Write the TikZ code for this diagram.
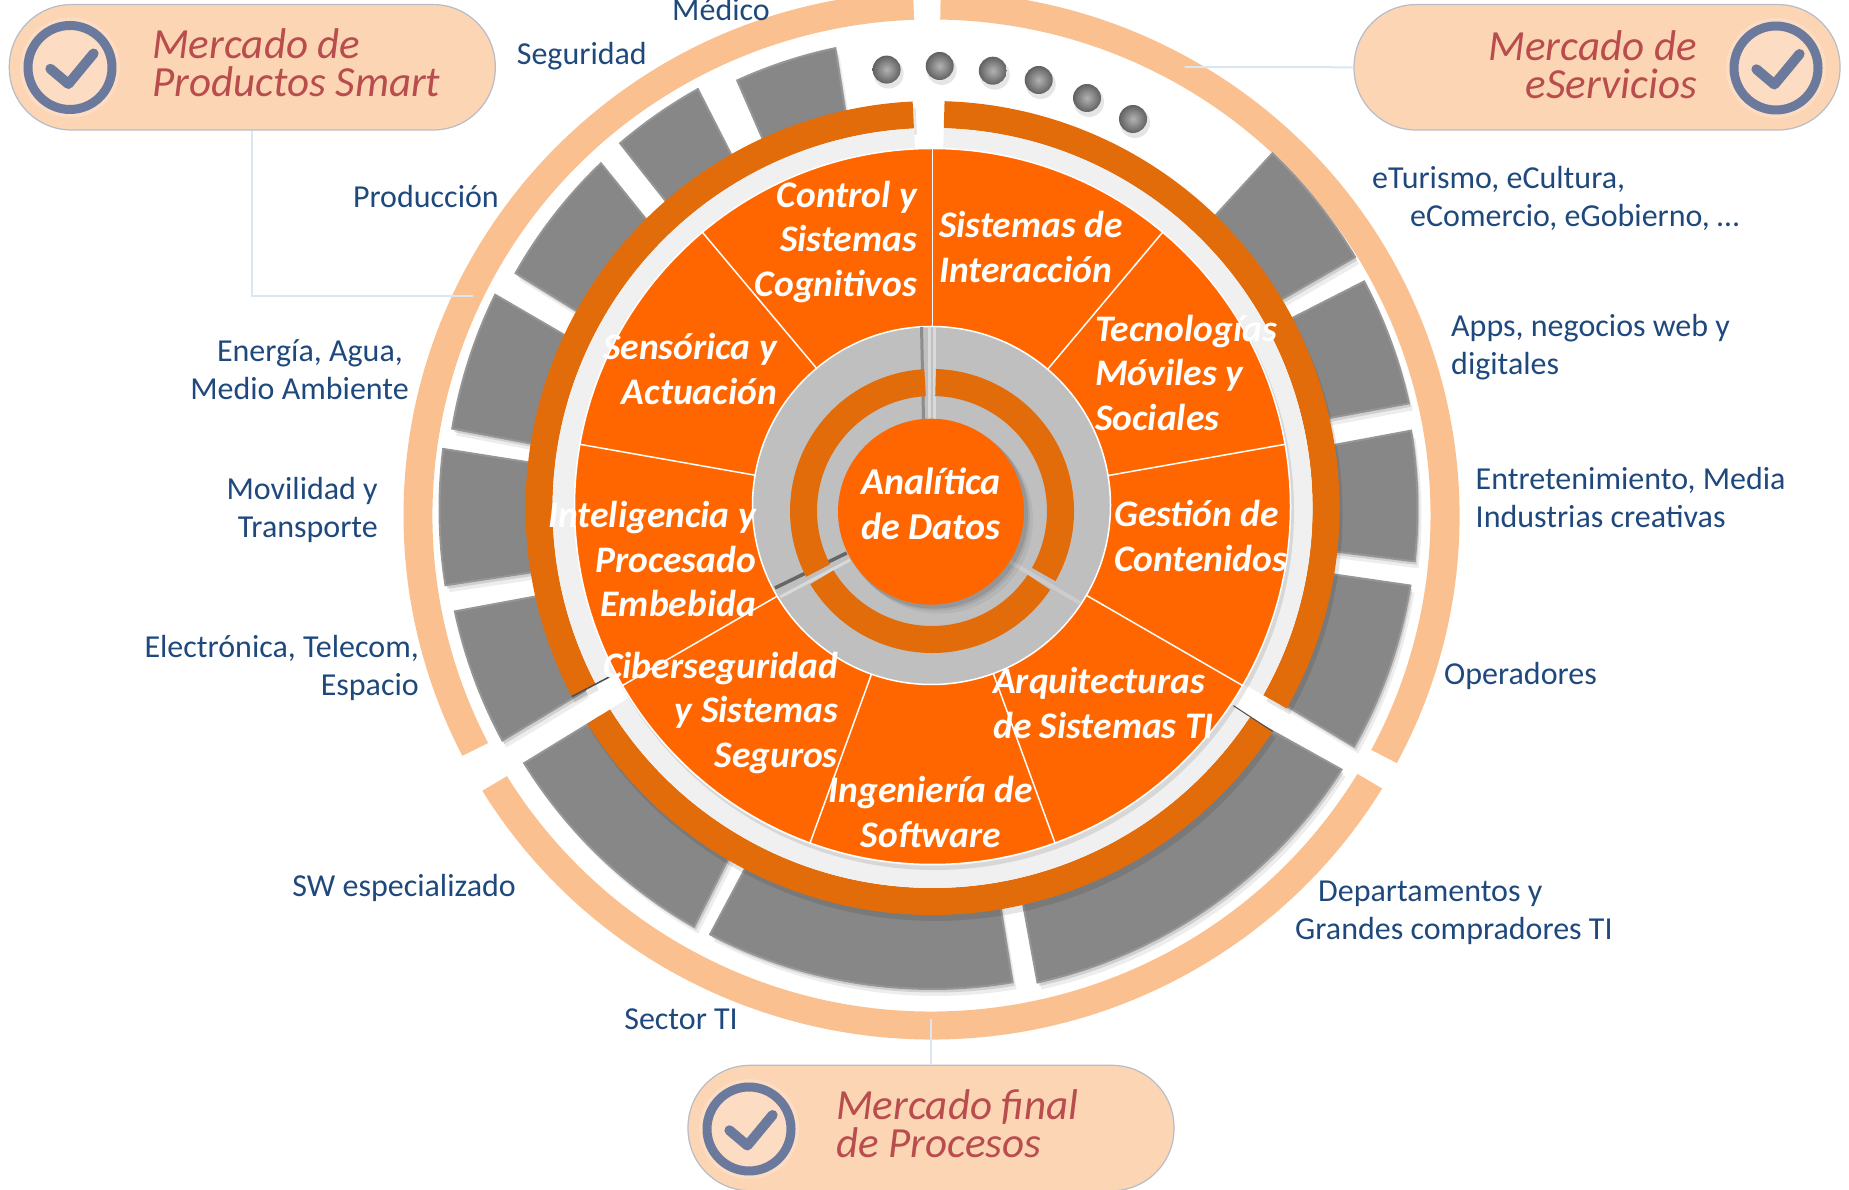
\documentclass[tikz,border=0pt]{standalone}
\usepackage{fontspec}
\setmainfont{Carlito}
\definecolor{peach}{HTML}{FAC090}
\definecolor{pill}{HTML}{FCD5B5}
\definecolor{pillline}{HTML}{B9BCC4}
\definecolor{darkor}{HTML}{E36C0A}
\definecolor{brightor}{HTML}{FF6600}
\definecolor{lightring}{HTML}{F0F0F0}
\definecolor{grayring}{HTML}{BFBFBF}
\definecolor{blockg}{HTML}{878787}
\definecolor{blockedge}{HTML}{969696}
\definecolor{labelc}{HTML}{1F497D}
\definecolor{pilltext}{HTML}{B94D4D}
\definecolor{iconc}{HTML}{6B7A9C}
\definecolor{connc}{HTML}{DCE6F2}
\newcommand{\band}[5][]{\path[#1] (#2:#5pt) arc[start angle=#2,end angle=#3,radius=#5pt] -- (#3:#4pt) arc[start angle=#3,end angle=#2,radius=#4pt] -- cycle;}
\newcommand{\eband}[2]{\path[fill=peach] (#1:528pt and 524pt) arc[start angle=#1,end angle=#2,x radius=528pt,y radius=524pt] -- (#2:499pt and 496pt) arc[start angle=#2,end angle=#1,x radius=499pt,y radius=496pt] -- cycle;}
\newcommand{\blockshape}[6][]{\path[#1] (#2:#4pt) arc[start angle=#2,end angle=#3,radius=#4pt] -- (#6:392pt) arc[start angle=#6,end angle=#5,radius=392pt] -- cycle;}
\newcommand{\blk}[5]{%
  \blockshape[fill=black,fill opacity=.07,shift={(4pt,-7pt)}]{#1}{#2}{#3}{#4}{#5}
  \blockshape[fill=black,fill opacity=.12,shift={(2pt,-3.5pt)}]{#1}{#2}{#3}{#4}{#5}
  \blockshape[fill=blockg,draw=blockedge,line width=2pt,line join=miter]{#1}{#2}{#3}{#4}{#5}}
\newcommand{\tick}[1]{%
  \begin{scope}[shift={(#1)}]
    \fill[white,fill opacity=.18] (0,0) circle[radius=50pt];
    \draw[iconc,line width=9pt] (0,0) circle[radius=42pt];
    \draw[iconc,line width=10pt,line cap=round,line join=round] (-19.6,-1.3) -- (-1.6,-16.5) -- (23.6,14);
  \end{scope}}
\newcommand{\ball}[1]{%
  \fill[black,fill opacity=.10] ($(#1)+(2,-4)$) circle[radius=15pt];
  \shade[inner color=black!30,outer color=black!62] (#1) circle[radius=14pt];}
\usetikzlibrary{calc}
\tikzset{
  x=1pt,y=1pt,
  lab/.style={font=\fontsize{32}{38}\selectfont,text=labelc,inner sep=0pt},
  sec/.style={font=\fontsize{37.5}{44.5}\selectfont\bfseries\itshape,text=white,inner sep=0pt},
  pillbox/.style={fill=pill,draw=pillline,line width=1.2pt,rounded corners=62pt,inner sep=0pt,minimum width=486pt,minimum height=125.4pt},
  pilltxt/.style={font=\fontsize{43}{38}\selectfont\itshape,text=pilltext,inner sep=0pt},
  conn/.style={connc,line width=2pt},
  divider/.style={white,line width=1.5pt}
}
\begin{document}
\begin{tikzpicture}
\useasboundingbox (0,0) rectangle (1849,1189);
\clip (0,0) rectangle (1849,1189);
% outer peach ring
\begin{scope}[shift={(931.5,673.5)}]
  \eband{92}{207.3}
  \eband{211.7}{328.6}
  \eband{-28.2}{89}
\end{scope}
% grey blocks
\begin{scope}[shift={(932.5,680)}]
  \blk{101.9}{114.5}{471}{102.5}{114.7}
  \blk{119.2}{130.5}{481}{119.7}{131}
  \blk{133.8}{150.5}{479}{134.9}{151}
  \blk{153.9}{170.5}{487}{154.9}{170.8}
  \blk{173}{188.9}{493}{173.5}{189}
  \blk{192.1}{208.3}{488.5}{192.5}{207.6}
  \blk{211.9}{240.3}{481}{212}{239.6}
  \blk{242.4}{279.6}{480}{242.5}{279.7}
  \blk{282.5}{327.5}{485}{283}{326.7}
  \blk{330.6}{350.9}{484}{331}{350.7}
  \blk{353.8}{369.3}{485}{354}{369}
  \blk{372.5}{387.8}{488}{373}{388}
  \blk{390.8}{406.3}{492}{391}{406}
\end{scope}
% spheres
\ball{886.6,1119.4}
\ball{939.7,1123}
\ball{992.8,1118.3}
\ball{1038.7,1109}
\ball{1087,1091}
\ball{1133,1070}
% dark ring with light ring inside
\begin{scope}[shift={(932.5,681)}]
  \foreach \a/\b in {92.8/207.6,212/326.7,-29.5/88.3}{
    \band[fill=black,fill opacity=.10,shift={(3pt,-6pt)}]{\a}{\b}{380}{407}
    \band[fill=darkor]{\a}{\b}{380}{407}
    \band[fill=lightring]{\a}{\b}{358}{380}
  }
  \draw[black!70,line width=1.5pt] (207.6:360pt) -- (207.6:407pt);
  \draw[black!70,line width=1pt] (-33.3:360pt) -- (-33.3:407pt);
\end{scope}
% orange disc
\fill[black,fill opacity=.10] (935,678) circle[radius=359pt];
\fill[brightor,draw=white,line width=1.5pt] (932.5,682.5) circle[radius=358pt];
\foreach \a in {90,50,10,-30,-70,-110,-150,170,130}{
  \draw[divider] ($(932.5,682.5)+(\a:178pt)$) -- ($(932.5,682.5)+(\a:358pt)$);
}
% grey ring
\fill[grayring,draw=white,line width=1.5pt] (931.5,683.5) circle[radius=179pt];
% separators in the grey ring
\draw[black!45,line width=3pt] (923.5,770) -- (921.5,862);
\draw[black!15,line width=3pt] (929,770) -- (929,862);
\draw[white!85!black,line width=3pt] (934,770) -- (934,862);
\draw[black!60,line width=3.5pt] (846.7,636) -- (775,601);
\draw[white!85!black,line width=3pt] (850,629) -- (780,592);
\draw[white!80!black,line width=4pt] (1010,627.3) -- (1080,586);
% inner orange ring
\begin{scope}[shift={(932,678)}]
  \band[fill=darkor]{93.1}{207.6}{115}{142}
  \band[fill=darkor]{211.1}{326.3}{115}{142}
  \band[fill=darkor]{-29.6}{88.4}{115}{142}
\end{scope}
% centre
\foreach \o/\s in {.05/8,.07/5,.10/3}{
  \fill[black,fill opacity=\o] ($(931,677.3)+(\s pt,-\s pt)$) circle[radius=94pt];
}
\fill[brightor] (931,677.3) circle[radius=93pt];
\node[sec,align=center,font=\fontsize{38}{45}\selectfont\bfseries\itshape] (centre) at (931,1189-504) {Analítica\\de Datos};
% connectors and pills
\coordinate (endA) at (473,893);
\coordinate (endB) at (1184.6,1122);
\coordinate (endC) at (931,170);
\node[pillbox] (pillA) at (252.3,1121.7) {};
\node[pillbox] (pillB) at (1597,1121.7) {};
\node[pillbox] (pillC) at (931,1189-1128) {};
\draw[conn] (pillA.south) |- (endA);
\draw[conn] (pillB.west) -- (endB);
\draw[conn] (pillC.north) -- (endC);
\tick{70,1121.5}
\tick{1776,1121}
\tick{749,60}
\node[pilltxt,align=left,anchor=west] (txtA) at (152,1189-63) {Mercado de\\Productos Smart};
\node[pilltxt,align=right,anchor=east] (txtB) at (1697,1189-65) {Mercado de\\eServicios};
\node[pilltxt,align=left,anchor=west] (txtC) at (836,1189-1124) {Mercado final\\de Procesos};
% market labels
\node[lab,anchor=east] (l1) at (770,1189-10) {Médico};
\node[lab,anchor=east] (l2) at (647,1189-56.5) {Seguridad};
\node[lab,anchor=east] (l3) at (499,1189-197) {Producción};
\node[lab,anchor=east,align=right] (l4) at (409,1189-369.5) {Energía, Agua,\hspace*{6pt}\\Medio Ambiente};
\node[lab,anchor=east,align=right] (l5) at (378,1189-510) {Movilidad y\\Transporte};
\node[lab,anchor=east,align=right] (l6) at (419,1189-668) {Electrónica, Telecom,\\Espacio};
\node[lab,anchor=east] (l7) at (516,1189-887.5) {SW especializado};
\node[lab,anchor=east] (l8) at (738,1189-1019) {Sector TI};
\node[lab,anchor=west,align=left] (l9) at (1295,1189-913) {\hspace*{23pt}Departamentos y\\Grandes compradores TI};
\node[lab,anchor=west] (l10) at (1444,1189-675.5) {Operadores};
\node[lab,anchor=west,align=left] (l11) at (1475.5,1189-498) {Entretenimiento, Media\\Industrias creativas};
\node[lab,anchor=west,align=left] (l12) at (1451,1189-347) {Apps, negocios web y\\digitales};
\node[lab,anchor=west,align=left] (l13) at (1372,1189-198) {eTurismo, eCultura,\\\hspace*{38pt}eComercio, eGobierno, …};
% sector labels
\node[sec,anchor=east,align=right] (s1) at (917,1189-242) {Control y\\Sistemas\\Cognitivos};
\node[sec,anchor=east,align=right] (s2) at (777,1189-369) {Sensórica y\\Actuación};
\node[sec,anchor=east,align=right] (s3) at (756,1189-559) {Inteligencia y\\Procesado\\Embebida};
\node[sec,anchor=east,align=right] (s4) at (838,1189-713) {Ciberseguridad\\y Sistemas\\Seguros};
\node[sec,align=center] (s5) at (931,1189-812) {Ingeniería de\\Software};
\node[sec,anchor=west,align=left] (s6) at (993,1189-703) {Arquitecturas\\de Sistemas TI};
\node[sec,anchor=west,align=left] (s7) at (1114,1189-536) {Gestión de\\Contenidos};
\node[sec,anchor=west,align=left] (s8) at (1095,1189-372.5) {Tecnologías\\Móviles y\\Sociales};
\node[sec,anchor=west,align=left] (s9) at (939,1189-247) {Sistemas de\\Interacción};
\end{tikzpicture}
\end{document}
